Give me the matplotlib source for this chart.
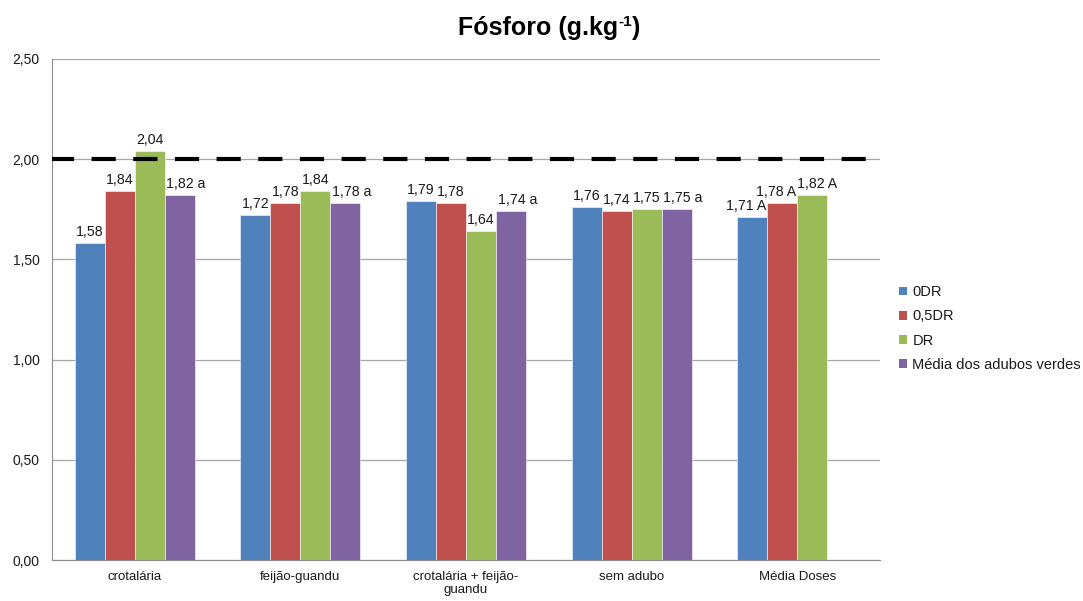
import numpy as np
import matplotlib
matplotlib.use("Agg")
import matplotlib.pyplot as plt
from matplotlib.patches import Patch

plt.rcParams['font.family'] = ['Liberation Sans', 'DejaVu Sans']

categories = ["crotalária", "feijão-guandu", "crotalária + feijão-\nguandu", "sem adubo", "Média Doses"]
series_names = ["0DR", "0,5DR", "DR", "Média dos adubos verdes"]
colors = ["#4F81BD", "#C0504D", "#9BBB59", "#8064A2"]

v_0dr = [1.58, 1.72, 1.79, 1.76, 1.71]
v_05dr = [1.84, 1.78, 1.78, 1.74, 1.78]
v_dr = [2.04, 1.84, 1.64, 1.75, 1.82]
v_media = [1.82, 1.78, 1.74, 1.75, np.nan]

# letters attached to labels (Tukey groups)
let_0dr = ["", "", "", "", "A"]
let_05dr = ["", "", "", "", "A"]
let_dr = ["", "", "", "", "A"]
let_media = ["a", "a", "a", "a", ""]

reference_level = 2.0
yticks = [0.0, 0.5, 1.0, 1.5, 2.0, 2.5]

values = [v_0dr, v_05dr, v_dr, v_media]
letters = [let_0dr, let_05dr, let_dr, let_media]

fig = plt.figure(figsize=(10.83, 6.01), dpi=100)
ax = fig.add_axes([52/1083, 41/601, (880-52)/1083, (560-59)/601])

x = np.arange(len(categories))
width = 0.181
txt_color = "#1a1a1a"
lab_fs = 10.2

for i, (vals, name, col) in enumerate(zip(values, series_names, colors)):
    pos = x + (i - 1.5) * width
    ax.bar(pos, vals, width=width, color=col, edgecolor="white", linewidth=0.4,
           label=name, zorder=3)
    for j, (p, v) in enumerate(zip(pos, vals)):
        if np.isnan(v):
            continue
        num = f"{v:.2f}".replace(".", ",")
        let = letters[i][j]
        if let == "":
            ax.annotate(num, (p, v), xytext=(0, 3), textcoords="offset points",
                        ha="center", va="bottom", fontsize=lab_fs, color=txt_color, zorder=5)
        elif let == "a":
            ax.annotate(f"{num} {let}", (p, v), xytext=(4.5, 3), textcoords="offset points",
                        ha="center", va="bottom", fontsize=lab_fs, color=txt_color, zorder=5)
        else:
            if i < 2:
                ax.annotate(f"{num} {let}", (p + width / 2, v), xytext=(-1, 3),
                            textcoords="offset points", ha="right", va="bottom",
                            fontsize=lab_fs, color=txt_color, zorder=5)
            else:
                ax.annotate(f"{num} {let}", (p - width / 2, v), xytext=(0, 3),
                            textcoords="offset points", ha="left", va="bottom",
                            fontsize=lab_fs, color=txt_color, zorder=5)

ax.axhline(reference_level, color="black", linewidth=3.0,
           linestyle=(0.5, (5.8, 4.2)), zorder=4)

ax.set_xlim(-0.5, len(categories) - 0.5)
ax.set_ylim(0, 2.5)
ax.set_yticks(yticks)
ax.set_yticklabels([f"{t:.2f}".replace(".", ",") for t in yticks], fontsize=10, color=txt_color)
ax.set_xticks(x)
ax.set_xticklabels(categories, fontsize=9.5, color=txt_color, linespacing=1.1)
ax.tick_params(axis="both", length=0)
ax.tick_params(axis="y", pad=9)
ax.tick_params(axis="x", pad=8)
ax.grid(axis="y", color="#a6a6a6", linewidth=0.9, zorder=0)
ax.set_axisbelow(True)
for s in ["top", "right"]:
    ax.spines[s].set_visible(False)
ax.spines["left"].set_color("#8c8c8c")
ax.spines["bottom"].set_color("#8c8c8c")

handles = [Patch(facecolor=c, edgecolor="none") for c in colors]
fig.legend(handles, series_names, loc="upper left", bbox_to_anchor=(886/1083, 1 - 272/601),
           frameon=False, fontsize=10.5, handlelength=0.55, handleheight=0.55,
           handletextpad=0.35, labelspacing=0.7, labelcolor=txt_color)

# title with superscript unit
fig.canvas.draw()
r = fig.canvas.get_renderer()
ty = 1 - 35/601
t1 = fig.text(0, ty, "Fósforo (g.kg", fontsize=18, fontweight="bold", color="black", va="baseline")
t2 = fig.text(0, ty, "-1", fontsize=11, fontweight="bold", color="black", va="baseline")
t3 = fig.text(0, ty, ")", fontsize=18, fontweight="bold", color="black", va="baseline")
w1 = t1.get_window_extent(r).width
w2 = t2.get_window_extent(r).width
w3 = t3.get_window_extent(r).width
total = w1 + w2 + w3
x0 = 549 - total / 2
t1.set_x(x0 / 1083)
t2.set_x((x0 + w1) / 1083)
t2.set_y(ty + 9/601)
t3.set_x((x0 + w1 + w2) / 1083)

fig.savefig("out.png", dpi=100)
